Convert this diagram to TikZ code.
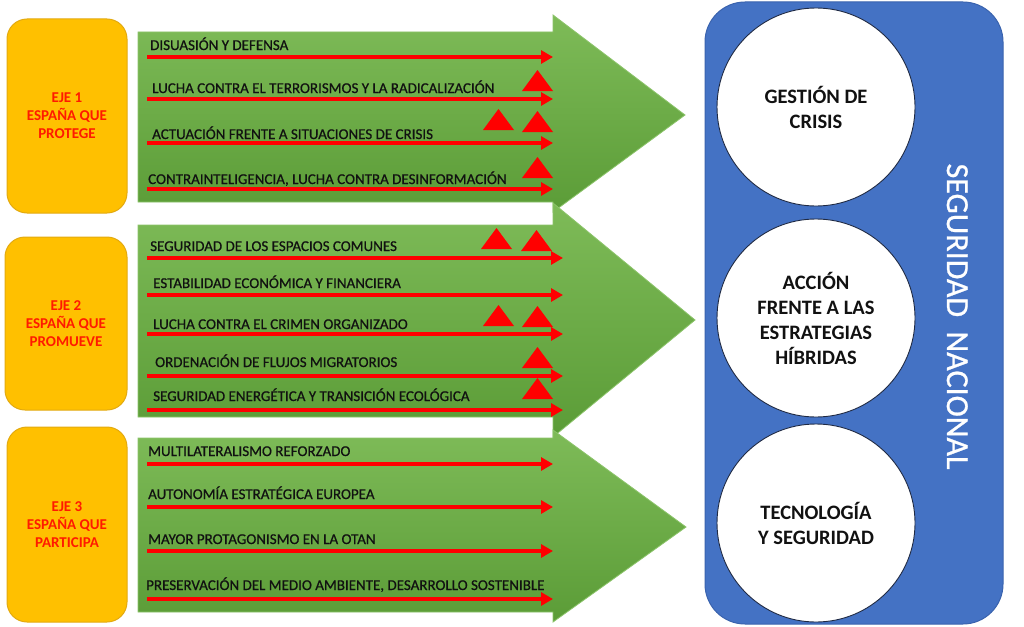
\documentclass[tikz,border=0pt]{standalone}
\usepackage{fontspec}
\setmainfont{Carlito}
\usetikzlibrary{arrows.meta}
\definecolor{eyellow}{HTML}{FFC000}
\definecolor{eyellowd}{HTML}{E3AA10}
\definecolor{ejered}{HTML}{FF1A00}
\definecolor{gtop}{HTML}{7EBB58}
\definecolor{gbot}{HTML}{5B9C37}
\definecolor{gline}{HTML}{8CC46A}
\definecolor{nblue}{HTML}{4472C4}
\definecolor{nblued}{HTML}{3A63AE}
\definecolor{txt}{HTML}{111111}
\definecolor{circline}{HTML}{1F2A44}
\newcommand{\itemrow}[6]{%
  \node[itemtext, anchor=base west] (#1) at (#2,#3) {#4};
  \coordinate (#1s) at (147,#5);
  \coordinate (#1e) at (#6,#5);
  \draw[redline] (#1s) -- (#1e);}
\newcommand{\warntri}[2]{\fill[red] (#1,#2) -- ++(31,0) -- ++(-15.5,-21) -- cycle;}
\begin{document}
\begin{tikzpicture}[x=1pt,y=-1pt,
  ejebox/.style={draw=eyellowd, line width=1pt, fill=eyellow, rounded corners=20pt,
    text=ejered, font=\fontsize{15}{18}\selectfont\bfseries, align=center, inner sep=0pt},
  itemtext/.style={inner sep=0pt, text=txt, font=\fontsize{15}{18}\selectfont\addfontfeature{FakeBold=0.6}},
  redline/.style={draw=red, line width=4.3pt, -{Triangle[length=12pt,width=13pt]}},
  greenarrow/.style={top color=gtop, bottom color=gbot, draw=gline, line width=0.8pt},
  circ/.style={circle, draw=circline, line width=0.9pt, fill=white, minimum size=198pt,
    inner sep=0pt, align=center, text=txt, font=\fontsize{20.5}{25}\selectfont\bfseries}]
\useasboundingbox (0,0) rectangle (1024,626);
\fill[white] (0,0) rectangle (1024,626);

% yellow boxes
\node[ejebox, minimum width=120pt, minimum height=194pt] (eje1) at (67,116) {EJE 1\\ESPAÑA QUE\\PROTEGE};
\node[ejebox, minimum width=122pt, minimum height=173pt] (eje2) at (66,323.5) {EJE 2\\ESPAÑA QUE\\PROMUEVE};
\node[ejebox, minimum width=120pt, minimum height=195pt] (eje3) at (67,524.5) {EJE 3\\ESPAÑA QUE\\PARTICIPA};

% green arrows
\shadedraw[greenarrow] (138,32) -- (553,32) -- (553,15) -- (685,115) -- (553,212) -- (553,202) -- (138,202) -- cycle;
\shadedraw[greenarrow] (138,225) -- (553,225) -- (553,203) -- (695,320) -- (553,437) -- (553,417) -- (138,417) -- cycle;
\shadedraw[greenarrow] (138,438) -- (553,438) -- (553,430) -- (686,527) -- (553,622) -- (553,612) -- (138,612) -- cycle;

% arrow 1 items
\itemrow{a1}{150}{50}{DISUASIÓN Y DEFENSA}{57}{553}
\itemrow{a2}{152}{93}{LUCHA CONTRA EL TERRORISMOS Y LA RADICALIZACIÓN}{99}{553}
\itemrow{a3}{152}{139}{ACTUACIÓN FRENTE A SITUACIONES DE CRISIS}{143}{553}
\itemrow{a4}{148}{184}{CONTRAINTELIGENCIA, LUCHA CONTRA DESINFORMACIÓN}{189}{553}
\warntri{522}{91}
\warntri{483}{130}
\warntri{522}{132}
\warntri{522}{178}

% arrow 2 items
\itemrow{b1}{150}{251}{SEGURIDAD DE LOS ESPACIOS COMUNES}{258}{563}
\itemrow{b2}{153}{288}{ESTABILIDAD ECONÓMICA Y FINANCIERA}{295}{563}
\itemrow{b3}{153}{329}{LUCHA CONTRA EL CRIMEN ORGANIZADO}{334}{563}
\itemrow{b4}{155}{367}{ORDENACIÓN DE FLUJOS MIGRATORIOS}{376}{563}
\itemrow{b5}{153}{401}{SEGURIDAD ENERGÉTICA Y TRANSICIÓN ECOLÓGICA}{410}{563}
\warntri{481}{249}
\warntri{521}{251}
\warntri{483}{326}
\warntri{522}{327}
\warntri{522}{368}
\warntri{522}{399}

% arrow 3 items
\itemrow{c1}{148}{456}{MULTILATERALISMO REFORZADO}{464}{553}
\itemrow{c2}{148}{499}{AUTONOMÍA ESTRATÉGICA EUROPEA}{507}{553}
\itemrow{c3}{148}{544}{MAYOR PROTAGONISMO EN LA OTAN}{551}{553}
\itemrow{c4}{146}{590}{PRESERVACIÓN DEL MEDIO AMBIENTE, DESARROLLO SOSTENIBLE}{599}{553}

% national security panel
\draw[fill=nblue, draw=nblued, line width=1pt, rounded corners=40pt] (705,2) rectangle (1003,624);
\node[circ] (k1) at (816,107) {GESTIÓN DE\\CRISIS};
\node[circ] (k2) at (816,318) {ACCIÓN\\FRENTE A LAS\\ESTRATEGIAS\\HÍBRIDAS};
\node[circ] (k3) at (816,523) {TECNOLOGÍA\\Y SEGURIDAD};
\node[rotate=-90, anchor=base, inner sep=0pt, text=white, font=\fontsize{32}{36}\selectfont\addfontfeature{FakeBold=0.8}] (sn) at (947,316.5) {SEGURIDAD\hspace{0.45em}NACIONAL};
\end{tikzpicture}
\end{document}
